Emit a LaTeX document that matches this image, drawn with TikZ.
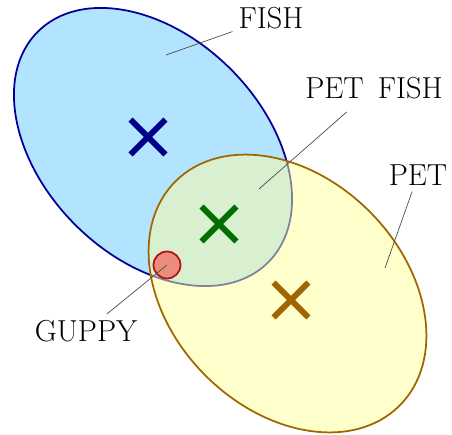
\documentclass[tikz,border=0pt]{standalone}
\usepackage{tikz}
\usetikzlibrary{shapes.misc}

\definecolor{fishfill}{RGB}{178,228,255}
\definecolor{fishline}{RGB}{0,0,150}
\definecolor{petfill}{RGB}{255,255,204}
\definecolor{petline}{RGB}{160,102,0}
\definecolor{bothfill}{RGB}{217,240,208}
\definecolor{bothline}{RGB}{130,130,155}
\definecolor{guppyfill}{RGB}{236,140,125}
\definecolor{guppyline}{RGB}{175,20,20}
\definecolor{xfish}{RGB}{0,0,140}
\definecolor{xboth}{RGB}{0,110,0}
\definecolor{xpet}{RGB}{160,100,0}

\tikzset{
  xmark/.style={cross out, draw=#1, line width=3.4pt, minimum size=0.58cm, inner sep=0pt},
  lbl/.style={font=\LARGE, inner sep=3pt},
  leader/.style={draw=black!70, line width=0.4pt}
}

\begin{document}
\begin{tikzpicture}[line width=1pt]
  \useasboundingbox (0,0) rectangle (9.04,8.68);

  % FISH set
  \draw[fill=fishfill, draw=fishline] (3.06,5.74) ellipse[x radius=3.26, y radius=2.2, rotate=-45];

  % PET set
  \fill[petfill] (5.75,2.81) ellipse[x radius=3.17, y radius=2.32, rotate=-45];

  % overlap (pet fish)
  \begin{scope}
    \clip (5.75,2.81) ellipse[x radius=3.17, y radius=2.32, rotate=-45];
    \draw[fill=bothfill, draw=bothline] (3.06,5.74) ellipse[x radius=3.26, y radius=2.2, rotate=-45];
  \end{scope}
  \draw[petline] (5.75,2.81) ellipse[x radius=3.17, y radius=2.32, rotate=-45];

  % guppy
  \node[circle, draw=guppyline, fill=guppyfill, minimum size=0.54cm, inner sep=0pt] (guppy) at (3.34,3.38) {};

  % prototypes
  \node[xmark=xfish] (fishx) at (2.96,5.94) {};
  \node[xmark=xboth] (bothx) at (4.38,4.20) {};
  \node[xmark=xpet] (petx) at (5.82,2.68) {};

  % labels
  \node[lbl] (fishlbl) at (5.42,8.32) {FISH};
  \node[lbl] (petfishlbl) at (7.48,6.92) {PET~\,FISH};
  \node[lbl] (petlbl) at (8.36,5.18) {PET};
  \node[lbl] (guppylbl) at (1.72,2.06) {GUPPY};

  \coordinate (fishpt) at (3.32,7.58);
  \coordinate (petfishpt) at (5.18,4.90);
  \coordinate (petpt) at (7.70,3.32);

  \draw[leader] (fishpt) -- (fishlbl);
  \draw[leader, shorten >=6pt] (petfishpt) -- (petfishlbl);
  \draw[leader] (petpt) -- (petlbl);
  \draw[leader] (guppy.center) -- (guppylbl);
\end{tikzpicture}
\end{document}
